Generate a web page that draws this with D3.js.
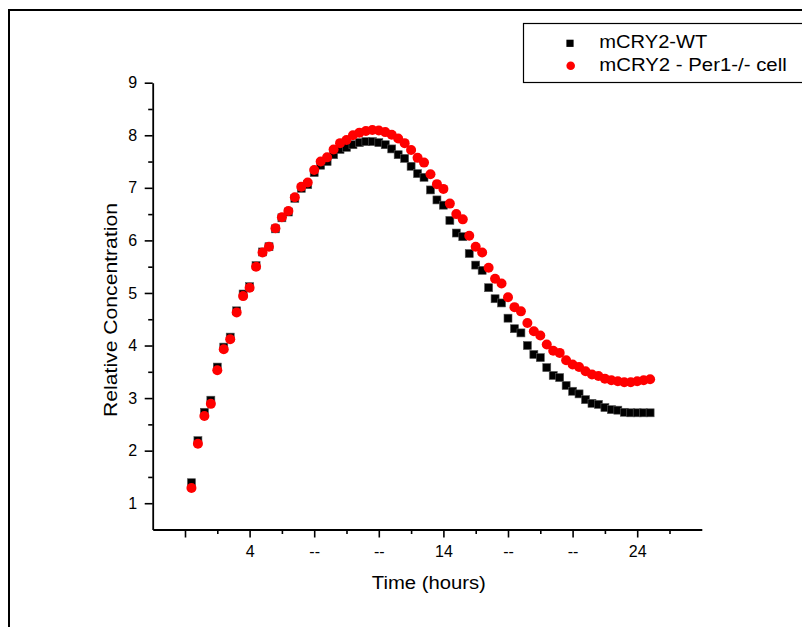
<!DOCTYPE html>
<html>
<head>
<meta charset="utf-8">
<script src="https://cdn.jsdelivr.net/npm/d3@7/dist/d3.min.js"></script>
<style>
  html, body { margin: 0; padding: 0; background: #fff; }
  svg { display: block; }
  text { font-family: "Liberation Sans", Arial, Helvetica, sans-serif; fill: #000; }
</style>
</head>
<body>
<svg id="chart" width="802" height="627"></svg>
<script>
// ---- data (sample index) ----
const samples = [1,2,3,4,5,6,7,8,9,10,11,12,13,14,15,16,17,18,19,20,21,22,23,24,25,26,27,28,29,30,31,32,33,34,35,36,
                 37,38,39,40,41,42,43,44,45,46,47,48,49,50,51,52,53,54,55,56,57,58,59,60,61,62,63,64,65,66,67,68,69,70,71,72];
const wtValues = [1.39,2.19,2.73,2.96,3.59,3.97,4.16,4.66,4.98,5.12,5.52,5.78,5.88,6.22,6.43,6.54,6.80,6.99,7.06,7.29,
                  7.43,7.50,7.63,7.73,7.77,7.82,7.86,7.88,7.88,7.86,7.82,7.74,7.63,7.56,7.41,7.27,7.20,6.96,6.77,6.67,
                  6.38,6.14,6.07,5.75,5.53,5.43,5.10,4.89,4.81,4.52,4.32,4.24,4.00,3.83,3.77,3.58,3.43,3.39,3.24,3.13,
                  3.08,2.97,2.90,2.88,2.82,2.78,2.77,2.73,2.72,2.72,2.72,2.72];
const per1Values = [1.29,2.13,2.66,2.89,3.53,3.93,4.12,4.63,4.94,5.10,5.50,5.77,5.88,6.23,6.44,6.56,6.82,7.02,7.10,7.34,
                    7.50,7.58,7.73,7.85,7.91,8.00,8.05,8.08,8.10,8.09,8.06,8.01,7.94,7.85,7.72,7.57,7.48,7.26,7.07,6.98,
                    6.70,6.50,6.40,6.09,5.88,5.77,5.48,5.27,5.18,4.92,4.73,4.65,4.43,4.27,4.19,4.02,3.90,3.86,3.72,3.64,
                    3.59,3.51,3.45,3.42,3.37,3.34,3.32,3.30,3.30,3.32,3.34,3.36];
const seriesNames = ["mCRY2-WT", "mCRY2 - Per1-/- cell"];
const xMajorTicks = [0,10,20,30,40,50,60,70];
const xMajorLabels = ["", "4", "--", "--", "14", "--", "--", "24"];
const xMinorTicks = [5,15,25,35,45,55,65,75];
const yMajorTicks = [1,2,3,4,5,6,7,8,9];
const yMinorTicks = [1.5,2.5,3.5,4.5,5.5,6.5,7.5,8.5];
const xTitle = "Time (hours)";
const yTitle = "Relative Concentration";

// ---- layout ----
const svg = d3.select("#chart");
const x = d3.scaleLinear().domain([-5, 80]).range([152.7, 701.8]);
const y = d3.scaleLinear().domain([0.5, 9]).range([529.5, 82.7]);

// outer frame (top & left visible)
svg.append("path")
  .attr("d", "M9,640 L9,10 L820,10")
  .attr("fill", "none").attr("stroke", "#000").attr("stroke-width", 2);

// axes
const xLabelMap = new Map(xMajorTicks.map((t, i) => [t, xMajorLabels[i]]));
const gx = svg.append("g").attr("transform", `translate(0,${y(0.5)})`)
  .call(d3.axisBottom(x).tickValues(xMajorTicks).tickSize(8).tickSizeOuter(0)
    .tickFormat(d => xLabelMap.get(d)));
gx.select(".domain").attr("stroke-width", 1.8);
gx.selectAll(".tick line").attr("stroke-width", 1.6);
gx.selectAll(".tick text").attr("font-size", 16).attr("dy", 0).attr("y", 27.8)
  .attr("font-family", "Liberation Sans, Arial, sans-serif");
const gxm = svg.append("g").attr("transform", `translate(0,${y(0.5)})`)
  .call(d3.axisBottom(x).tickValues(xMinorTicks).tickSize(4.5).tickSizeOuter(0).tickFormat(""));
gxm.select(".domain").remove();
gxm.selectAll(".tick line").attr("stroke-width", 1.6);

const gy = svg.append("g").attr("transform", `translate(${x(-5)},0)`)
  .call(d3.axisLeft(y).tickValues(yMajorTicks).tickSize(8).tickSizeOuter(0).tickFormat(d3.format("d")));
gy.select(".domain").attr("stroke-width", 1.8);
gy.selectAll(".tick line").attr("stroke-width", 1.6);
gy.selectAll(".tick text").attr("font-size", 16).attr("x", -15.5)
  .attr("font-family", "Liberation Sans, Arial, sans-serif");
const gym = svg.append("g").attr("transform", `translate(${x(-5)},0)`)
  .call(d3.axisLeft(y).tickValues(yMinorTicks).tickSize(4.5).tickSizeOuter(0).tickFormat(""));
gym.select(".domain").remove();
gym.selectAll(".tick line").attr("stroke-width", 1.6);

// axis titles
svg.append("text").attr("x", 428.8).attr("y", 588.5).attr("text-anchor", "middle")
  .attr("font-size", 18).attr("textLength", 114).attr("lengthAdjust", "spacingAndGlyphs").text(xTitle);
svg.append("text").attr("transform", "translate(117,310) rotate(-90)").attr("text-anchor", "middle")
  .attr("font-size", 18).attr("textLength", 214).attr("lengthAdjust", "spacingAndGlyphs").text(yTitle);

// data marks
const wt = samples.map((s, i) => ({ s, v: wtValues[i] }));
const per1 = samples.map((s, i) => ({ s, v: per1Values[i] }));
const sq = 8;
svg.append("g").selectAll("rect").data(wt).join("rect")
  .attr("x", d => x(d.s) - sq / 2).attr("y", d => y(d.v) - sq / 2)
  .attr("width", sq).attr("height", sq)
  .attr("fill", "#000").attr("stroke", "#555").attr("stroke-width", 0.6);
svg.append("g").selectAll("circle").data(per1).join("circle")
  .attr("cx", d => x(d.s)).attr("cy", d => y(d.v)).attr("r", 5)
  .attr("fill", "#ff0000");

// legend
const lg = svg.append("g");
lg.append("rect").attr("x", 523.5).attr("y", 23.5).attr("width", 300).attr("height", 59)
  .attr("fill", "#fff").attr("stroke", "#000").attr("stroke-width", 1.2);
lg.append("rect").attr("x", 570 - 3.6).attr("y", 43.3 - 3.6).attr("width", 7.2).attr("height", 7.2).attr("fill", "#000");
lg.append("circle").attr("cx", 570.7).attr("cy", 65.7).attr("r", 4.3).attr("fill", "#ff0000");
lg.append("text").attr("x", 599.3).attr("y", 48.3).attr("font-size", 17.5)
  .attr("textLength", 108).attr("lengthAdjust", "spacingAndGlyphs").text(seriesNames[0]);
lg.append("text").attr("x", 599.3).attr("y", 70.7).attr("font-size", 17.5)
  .attr("textLength", 187.4).attr("lengthAdjust", "spacingAndGlyphs").text(seriesNames[1]);
</script>
</body>
</html>
